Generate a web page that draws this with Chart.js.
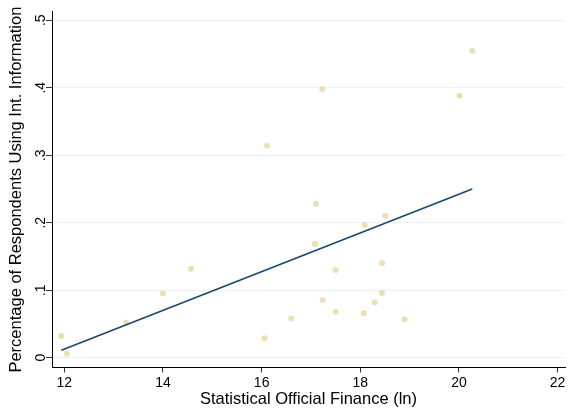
<!DOCTYPE html>
<html>
<head>
<meta charset="utf-8">
<script src="https://cdn.jsdelivr.net/npm/chart.js@4/dist/chart.umd.min.js"></script>
<style>
  html, body { margin: 0; padding: 0; background: #fff; }
  #wrap { width: 569px; height: 413px; }
</style>
</head>
<body>
<div id="wrap"><canvas id="c" width="569" height="413"></canvas></div>
<script>
// Statistical official finance (ln) vs. share of respondents using Int. information
const financeLn = [11.94, 12.05, 13.25, 14.00, 14.57, 16.06, 16.11, 16.60, 17.08, 17.10,
                   17.23, 17.24, 17.50, 17.50, 18.07, 18.09, 18.29, 18.44, 18.44, 18.51,
                   18.90, 20.01, 20.27];
const shareUsing = [0.032, 0.006, 0.052, 0.095, 0.132, 0.029, 0.314, 0.058, 0.169, 0.228,
                    0.398, 0.085, 0.130, 0.068, 0.066, 0.197, 0.082, 0.140, 0.096, 0.210,
                    0.057, 0.388, 0.455];

// Linear fit drawn between the extreme x values
const fitX = [11.94, 20.27];
const fitY = [0.011, 0.250];

const xTicks = [12, 14, 16, 18, 20, 22];
const yTicks = [0, 0.1, 0.2, 0.3, 0.4, 0.5];
const yTickLabels = ['0', '.1', '.2', '.3', '.4', '.5'];

const scatterPts = financeLn.map((x, i) => ({ x: x, y: shareUsing[i] }));
const fitPts = fitX.map((x, i) => ({ x: x, y: fitY[i] }));

const FONT = "'Liberation Sans', Arial, Helvetica, sans-serif";

// Y tick labels are written upright along the axis (rotated 90°)
const rotatedYLabels = {
  id: 'rotatedYLabels',
  afterDraw(chart) {
    const y = chart.scales.y;
    const ctx = chart.ctx;
    ctx.save();
    ctx.fillStyle = '#000';
    ctx.font = '14px ' + FONT;
    ctx.textAlign = 'center';
    ctx.textBaseline = 'alphabetic';
    yTicks.forEach((v, i) => {
      const py = y.getPixelForValue(v);
      ctx.save();
      ctx.translate(y.right - 7, py);
      ctx.rotate(-Math.PI / 2);
      ctx.fillText(yTickLabels[i], 0, 0);
      ctx.restore();
    });
    ctx.restore();
  }
};

new Chart(document.getElementById('c'), {
  type: 'scatter',
  data: {
    datasets: [
      {
        type: 'line',
        data: fitPts,
        borderColor: '#1a476f',
        borderWidth: 1.6,
        pointRadius: 0,
        fill: false,
        order: 0
      },
      {
        data: scatterPts,
        backgroundColor: '#eae0b2',
        borderColor: '#eae0b2',
        pointRadius: 3,
        borderWidth: 0,
        order: 1
      }
    ]
  },
  plugins: [rotatedYLabels],
  options: {
    responsive: false,
    animation: false,
    devicePixelRatio: 1,
    layout: { padding: { top: 11.7, right: 0, left: 0, bottom: 0 } },
    plugins: { legend: { display: false }, tooltip: { enabled: false } },
    scales: {
      x: {
        type: 'linear',
        min: 11.75,
        max: 22.15,
        afterBuildTicks: s => { s.ticks = xTicks.map(v => ({ value: v })); },
        afterFit: s => { s.height = 45.5; },
        border: { color: '#000', width: 1 },
        grid: { drawOnChartArea: false, drawTicks: true, tickLength: 5, tickColor: '#333' },
        ticks: {
          color: '#000',
          font: { family: FONT, size: 14 },
          padding: 2,
          maxRotation: 0,
          minRotation: 0
        },
        title: {
          display: true,
          text: 'Statistical Official Finance (ln)',
          color: '#000',
          font: { family: FONT, size: 16.5 },
          padding: { top: 0, bottom: 4 }
        }
      },
      y: {
        type: 'linear',
        min: -0.0145,
        max: 0.5127,
        afterBuildTicks: s => { s.ticks = yTicks.map(v => ({ value: v })); },
        afterFit: s => { s.width = 52; },
        border: { color: '#000', width: 1 },
        grid: { color: '#eaf2f3', lineWidth: 1, drawTicks: true, tickLength: 6, tickColor: '#333' },
        ticks: { display: false },
        title: {
          display: true,
          text: 'Percentage of Respondents Using Int. Information',
          color: '#000',
          font: { family: FONT, size: 16.5 },
          padding: { top: 7, bottom: 0 }
        }
      }
    }
  }
});
</script>
</body>
</html>
